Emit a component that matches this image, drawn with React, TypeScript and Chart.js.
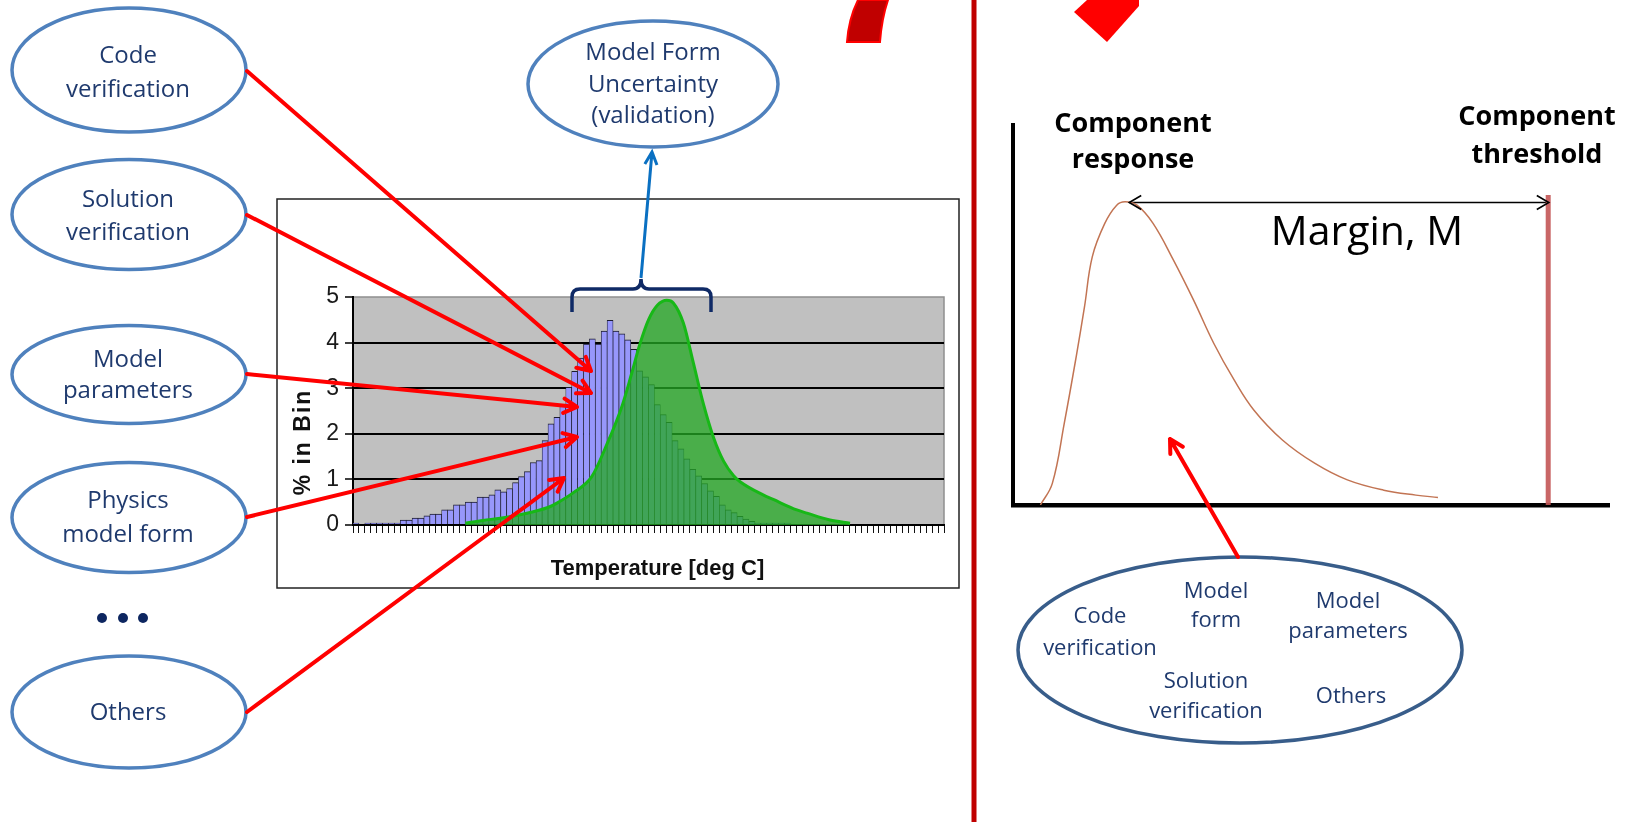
import React, { useEffect, useRef } from 'react';
import { Chart, registerables } from 'chart.js';

Chart.register(...registerables);

// ---------------- Histogram (left) data ----------------
const binLabels: string[] = Array.from({ length: 100 }, (_, i) => `bin ${i + 1}`);
const binPercent: number[] = [
  0.04, 0, 0.04, 0.04, 0.04, 0.04, 0.04, 0.04, 0.11, 0.11,
  0.15, 0.15, 0.2, 0.24, 0.24, 0.33, 0.33, 0.44, 0.44, 0.5,
  0.5, 0.61, 0.61, 0.66, 0.77, 0.73, 0.8, 0.93, 1.06, 1.17,
  1.37, 1.41, 1.85, 2.22, 2.36, 2.6, 3.02, 3.37, 3.66, 3.97,
  4.08, 3.97, 4.25, 4.49, 4.25, 4.19, 4.06, 3.85, 3.38, 3.25,
  3.08, 2.64, 2.42, 2.25, 1.85, 1.67, 1.45, 1.22, 1.08, 0.91,
  0.75, 0.63, 0.44, 0.33, 0.27, 0.19, 0.13, 0.08, 0.04, 0.04,
  0.04, 0.04, 0.04, 0.04, 0, 0, 0, 0, 0, 0,
  0, 0, 0, 0, 0, 0, 0, 0, 0, 0,
  0, 0, 0, 0, 0, 0, 0, 0, 0, 0,
];
// validated model-form curve (position in bin units, % in bin)
const modelFormBin: number[] = [
  18.5, 21.5, 24.4, 27.2, 30.0, 32.8, 34.0, 36.8, 39.9, 42.4, 45.0, 46.6, 48.0, 49.5, 51.0,
  52.6, 53.7, 55.4, 57.1, 58.8, 60.5, 62.2, 63.9, 65.0, 68.9, 70.6, 74.6, 76.3, 80.2, 83.6,
];
const modelFormPercent: number[] = [
  0.04, 0.1, 0.15, 0.21, 0.29, 0.4, 0.48, 0.71, 1.06, 1.75, 2.6, 3.3, 3.95, 4.5, 4.82,
  4.93, 4.87, 4.43, 3.55, 2.65, 1.92, 1.4, 1.08, 0.95, 0.66, 0.56, 0.33, 0.26, 0.11, 0.04,
];
const yTickMin = 0;
const yTickMax = 5;
const yTickStep = 1;

// ---------------- Response (right) data ----------------
const responseX: number[] = [4.6, 6.6, 8.6, 10.6, 12.0, 13.3, 15.4, 17.4, 18.8, 20.8, 23.5, 26.9, 30.3, 33.7, 37.1, 40.4, 45.2, 50.6, 56.1, 62.2, 67.6, 71.3];
const responseY: number[] = [0, 5.7, 21.5, 39.0, 52.2, 65.3, 74.1, 78.9, 79.8, 78.9, 74.1, 64.5, 53.9, 42.5, 32.9, 25.0, 17.1, 11.0, 6.6, 3.9, 2.6, 2.0];
const thresholdX: number[] = [89.8, 89.8];
const thresholdY: number[] = [0, 81.6];
const marginX: number[] = [19.5, 89.9];
const marginY: number[] = [79.6, 79.6];

const NAVY = '#1f3a6e';
const TEXT_FONT = "'Open Sans', 'Noto Sans', sans-serif";
const HIST_PLOT_WIDTH = 591;

const plotBackground = {
  id: 'plotBackground',
  beforeDraw(chart: any) {
    const { ctx, chartArea: a } = chart;
    ctx.save();
    ctx.fillStyle = '#c0c0c0';
    ctx.fillRect(a.left, a.top, a.right - a.left, a.bottom - a.top);
    ctx.strokeStyle = '#8e8e8e';
    ctx.lineWidth = 1.5;
    ctx.beginPath();
    ctx.moveTo(a.left, a.top);
    ctx.lineTo(a.right, a.top);
    ctx.lineTo(a.right, a.bottom);
    ctx.stroke();
    ctx.restore();
  },
};

const histTitles = {
  id: 'histTitles',
  afterDraw(chart: any) {
    const { ctx, chartArea: a } = chart;
    ctx.save();
    ctx.fillStyle = '#111';
    ctx.font = 'bold 22px "Liberation Sans", Arial, sans-serif';
    ctx.textAlign = 'center';
    ctx.textBaseline = 'middle';
    ctx.fillText('Temperature [deg C]', (a.left + a.right) / 2 + 9, a.bottom + 44);
    ctx.translate(a.left - 49, (a.top + a.bottom) / 2 + 31);
    ctx.rotate(-Math.PI / 2);
    (ctx as any).letterSpacing = '2px';
    ctx.font = 'bold 23px "Liberation Sans", Arial, sans-serif';
    ctx.fillText('% in Bin', 0, 0);
    ctx.restore();
  },
};

const marginArrows = {
  id: 'marginArrows',
  afterDatasetsDraw(chart: any) {
    const meta = chart.getDatasetMeta(2);
    if (!meta || meta.data.length < 2) return;
    const p0 = meta.data[0];
    const p1 = meta.data[1];
    const { ctx } = chart;
    ctx.save();
    ctx.strokeStyle = '#000';
    ctx.lineWidth = 1.6;
    const len = 12;
    const dy = 7;
    ctx.beginPath();
    ctx.moveTo(p0.x + len, p0.y - dy);
    ctx.lineTo(p0.x, p0.y);
    ctx.lineTo(p0.x + len, p0.y + dy);
    ctx.moveTo(p1.x - len, p1.y - dy);
    ctx.lineTo(p1.x, p1.y);
    ctx.lineTo(p1.x - len, p1.y + dy);
    ctx.stroke();
    ctx.restore();
  },
};

function arrowPath(x1: number, y1: number, x2: number, y2: number, len = 15, ang = 0.5) {
  const a = Math.atan2(y2 - y1, x2 - x1);
  const ax = x2 - len * Math.cos(a - ang);
  const ay = y2 - len * Math.sin(a - ang);
  const bx = x2 - len * Math.cos(a + ang);
  const by = y2 - len * Math.sin(a + ang);
  return `M${x1},${y1} L${x2},${y2} M${ax},${ay} L${x2},${y2} L${bx},${by}`;
}

type Ell = { cx: number; cy: number; rx: number; ry: number; lines: { t: string; x: number; y: number }[] };

const leftEllipses: Ell[] = [
  { cx: 129, cy: 70, rx: 117, ry: 62, lines: [{ t: 'Code', x: 128, y: 63 }, { t: 'verification', x: 128, y: 97 }] },
  { cx: 129, cy: 214.5, rx: 117, ry: 55, lines: [{ t: 'Solution', x: 128, y: 207 }, { t: 'verification', x: 128, y: 240 }] },
  { cx: 129, cy: 374.5, rx: 117, ry: 49, lines: [{ t: 'Model', x: 128, y: 367 }, { t: 'parameters', x: 128, y: 398 }] },
  { cx: 129, cy: 517.5, rx: 117, ry: 55, lines: [{ t: 'Physics', x: 128, y: 508 }, { t: 'model form', x: 128, y: 542 }] },
  { cx: 129, cy: 712, rx: 117, ry: 56, lines: [{ t: 'Others', x: 128, y: 720 }] },
];

const leftArrows = [
  [247, 71, 591, 371],
  [247, 215, 591, 393],
  [247, 374, 577, 407],
  [247, 517, 577, 437],
  [247, 712, 564, 478],
];

const bottomTexts = [
  { t: 'Code', x: 1100, y: 623 },
  { t: 'verification', x: 1100, y: 655 },
  { t: 'Model', x: 1216, y: 598 },
  { t: 'form', x: 1216, y: 627 },
  { t: 'Model', x: 1348, y: 608 },
  { t: 'parameters', x: 1348, y: 638 },
  { t: 'Solution', x: 1206, y: 688 },
  { t: 'verification', x: 1206, y: 718 },
  { t: 'Others', x: 1351, y: 703 },
];

export default function App() {
  const histRef = useRef<HTMLCanvasElement>(null);
  const respRef = useRef<HTMLCanvasElement>(null);

  useEffect(() => {
    const hist = new Chart(histRef.current as HTMLCanvasElement, {
      type: 'bar',
      data: {
        labels: binLabels,
        datasets: [
          {
            type: 'line',
            data: modelFormBin.map((b, i) => ({ x: b, y: modelFormPercent[i] })),
            xAxisID: 'x2',
            yAxisID: 'y',
            borderColor: '#17b817',
            borderWidth: 3,
            backgroundColor: 'rgba(37,168,37,0.76)',
            fill: 'origin',
            pointRadius: 0,
            cubicInterpolationMode: 'monotone',
            order: 1,
          } as any,
          {
            type: 'bar',
            data: binPercent,
            xAxisID: 'x',
            yAxisID: 'y',
            backgroundColor: '#9797fb',
            borderColor: '#1c1c2e',
            borderWidth: { top: 1, left: 0.7, right: 0.7, bottom: 0 },
            barPercentage: 1,
            categoryPercentage: 1,
            grouped: false,
            barThickness: HIST_PLOT_WIDTH / binLabels.length,
            order: 2,
          } as any,
        ],
      },
      options: {
        animation: false,
        responsive: false,
        datasets: { bar: { barPercentage: 1, categoryPercentage: 1, grouped: false } },
        layout: { padding: { top: 98, right: 15, left: 6, bottom: 6 } },
        plugins: { legend: { display: false }, tooltip: { enabled: false } },
        scales: {
          x: {
            type: 'category',
            offset: true,
            weight: 1,
            grid: { offset: true, drawOnChartArea: false, drawTicks: true, tickLength: 8, tickColor: '#111', tickWidth: 1 },
            ticks: { display: false, autoSkip: false },
            border: { display: true, color: '#000', width: 2 },
            afterFit: (s: any) => { s.height = 57; },
          },
          x2: {
            type: 'linear',
            position: 'bottom',
            weight: 2,
            offset: false,
            min: -0.5,
            max: 99.5,
            ticks: { display: false },
            grid: { display: false, drawTicks: false, offset: false },
            border: { display: false },
            afterFit: (s: any) => { s.height = 0; },
          },
          y: {
            min: yTickMin,
            max: yTickMax,
            ticks: { stepSize: yTickStep, color: '#1a1a1a', padding: 6, font: { family: '"Liberation Sans", Arial, sans-serif', size: 23 } },
            grid: {
              color: (c: any) => (c.tick && c.tick.value === yTickMax ? 'rgba(0,0,0,0)' : '#000'),
              lineWidth: 2,
              tickLength: 8,
              tickColor: '#000',
              tickWidth: 1.5,
            },
            border: { display: true, color: '#000', width: 2 },
            afterFit: (s: any) => { s.width = 70; },
          },
        },
      } as any,
      plugins: [plotBackground, histTitles],
    });

    const resp = new Chart(respRef.current as HTMLCanvasElement, {
      type: 'line',
      data: {
        datasets: [
          {
            data: responseX.map((x, i) => ({ x, y: responseY[i] })),
            borderColor: '#c27453',
            borderWidth: 1.5,
            pointRadius: 0,
            fill: false,
            tension: 0.4,
          },
          {
            data: thresholdX.map((x, i) => ({ x, y: thresholdY[i] })),
            borderColor: 'rgba(195,85,85,0.9)',
            borderWidth: 5,
            pointRadius: 0,
            fill: false,
          },
          {
            data: marginX.map((x, i) => ({ x, y: marginY[i] })),
            borderColor: '#000',
            borderWidth: 1.6,
            pointRadius: 0,
            fill: false,
          },
        ],
      },
      options: {
        animation: false,
        responsive: false,
        layout: { padding: 10 },
        plugins: { legend: { display: false }, tooltip: { enabled: false } },
        scales: {
          x: { type: 'linear', min: 0, max: 100, ticks: { display: false }, grid: { display: false, drawTicks: false }, border: { display: true, color: '#000', width: 4.5 }, afterFit: (s: any) => { s.height = 0; } },
          y: { type: 'linear', min: 0, max: 100, ticks: { display: false }, grid: { display: false, drawTicks: false }, border: { display: true, color: '#000', width: 4 }, afterFit: (s: any) => { s.width = 0; } },
        },
      } as any,
      plugins: [marginArrows],
    });

    return () => {
      hist.destroy();
      resp.destroy();
    };
  }, []);

  return (
    <div style={{ position: 'absolute', left: 0, top: 0, width: 1633, height: 822, background: '#fff', overflow: 'hidden' }}>
      <canvas ref={histRef} width={682} height={389} style={{ position: 'absolute', left: 277, top: 199, width: 682, height: 389, display: 'block' }} />
      <canvas ref={respRef} width={616} height={400} style={{ position: 'absolute', left: 1003, top: 115, width: 616, height: 400, display: 'block' }} />
      <svg width={1633} height={822} style={{ position: 'absolute', left: 0, top: 0, pointerEvents: 'none' }}>
        {/* divider and top red shapes */}
        <line x1={974} y1={0} x2={974} y2={822} stroke="#c00000" strokeWidth={5} />
        <path d="M847,42 C848,28 852,12 858,0 L888,0 C884,12 881,28 880,42 Z" fill="#c00000" stroke="#ff0000" strokeWidth={2} />
        <path d="M1087,0 L1074,12 L1107,42 L1139,6 L1139,0 Z" fill="#ff0000" />

        {/* histogram frame */}
        <rect x={277} y={199} width={682} height={389} fill="none" stroke="#222" strokeWidth={1.5} />

        {/* bracket and blue arrow */}
        <path d="M572,312 L572,297 Q572,289 580,289 L633,289 Q641,289 641,279 Q641,289 649,289 L703,289 Q711,289 711,297 L711,312" fill="none" stroke="#0f2a66" strokeWidth={3.5} />
        <path d={arrowPath(641, 278, 652, 152, 14, 0.45)} fill="none" stroke="#0a70c2" strokeWidth={3} />

        {/* left ellipses */}
        {leftEllipses.map((e, i) => (
          <g key={'le' + i}>
            <ellipse cx={e.cx} cy={e.cy} rx={e.rx} ry={e.ry} fill="#fff" stroke="#4f81bd" strokeWidth={3.5} />
            {e.lines.map((l, j) => (
              <text key={j} x={l.x} y={l.y} textAnchor="middle" fontFamily={TEXT_FONT} fontSize={24} fill={NAVY}>{l.t}</text>
            ))}
          </g>
        ))}
        <circle cx={102} cy={618} r={5} fill="#0d2660" />
        <circle cx={123} cy={618} r={5} fill="#0d2660" />
        <circle cx={143} cy={618} r={5} fill="#0d2660" />

        {/* red arrows from sources to histogram */}
        {leftArrows.map((a, i) => (
          <path key={'la' + i} d={arrowPath(a[0], a[1], a[2], a[3], 15, 0.5)} fill="none" stroke="#ff0000" strokeWidth={4} strokeLinecap="round" strokeLinejoin="round" />
        ))}

        {/* model form uncertainty ellipse */}
        <ellipse cx={653} cy={84} rx={125} ry={63} fill="#fff" stroke="#4f81bd" strokeWidth={3.5} />
        <text x={653} y={60} textAnchor="middle" fontFamily={TEXT_FONT} fontSize={24} fill={NAVY}>Model Form</text>
        <text x={653} y={92} textAnchor="middle" fontFamily={TEXT_FONT} fontSize={24} fill={NAVY}>Uncertainty</text>
        <text x={653} y={123} textAnchor="middle" fontFamily={TEXT_FONT} fontSize={24} fill={NAVY}>(validation)</text>

        {/* right-side labels */}
        <text x={1133} y={132} textAnchor="middle" fontFamily={TEXT_FONT} fontWeight="bold" fontSize={27} fill="#000">Component</text>
        <text x={1133} y={168} textAnchor="middle" fontFamily={TEXT_FONT} fontWeight="bold" fontSize={27} fill="#000">response</text>
        <text x={1537} y={125} textAnchor="middle" fontFamily={TEXT_FONT} fontWeight="bold" fontSize={27} fill="#000">Component</text>
        <text x={1537} y={163} textAnchor="middle" fontFamily={TEXT_FONT} fontWeight="bold" fontSize={27} fill="#000">threshold</text>
        <text x={1367} y={245} textAnchor="middle" fontFamily={TEXT_FONT} fontSize={41} fill="#000">Margin, M</text>

        {/* bottom-right ellipse */}
        <ellipse cx={1240} cy={650} rx={222} ry={93} fill="#fff" stroke="#385d8a" strokeWidth={3.5} />
        {bottomTexts.map((t, i) => (
          <text key={'bt' + i} x={t.x} y={t.y} textAnchor="middle" fontFamily={TEXT_FONT} fontSize={22} fill={NAVY}>{t.t}</text>
        ))}
        <path d={arrowPath(1238, 557, 1170, 439, 15, 0.5)} fill="none" stroke="#ff0000" strokeWidth={4} strokeLinecap="round" strokeLinejoin="round" />
      </svg>
    </div>
  );
}
